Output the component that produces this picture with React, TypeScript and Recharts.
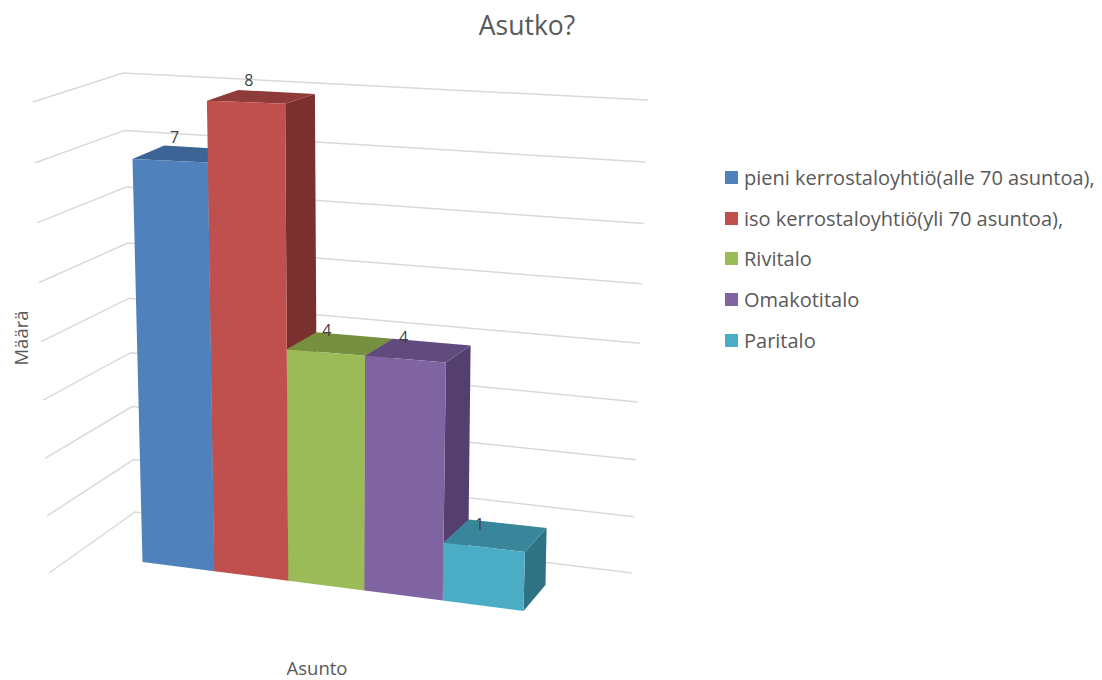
import { BarChart, Bar, XAxis, YAxis, CartesianGrid, Legend, LabelList } from 'recharts'

type Pt = [number, number]

const categories = ['Asunto']
const seriesKeys = ['pieni', 'iso', 'rivi', 'omakoti', 'pari']
const seriesNames = [
  'pieni kerrostaloyhtiö(alle 70 asuntoa),',
  'iso kerrostaloyhtiö(yli 70 asuntoa),',
  'Rivitalo',
  'Omakotitalo',
  'Paritalo',
]
const seriesValues = [7, 8, 4, 4, 1]
const frontColors = ['#4f81bd', '#c0504d', '#9bbb59', '#8064a2', '#4bacc6']
const topColors = ['#3c6494', '#8f3b39', '#76903f', '#614a7d', '#39869b']
const sideColors = ['#345781', '#7a302e', '#64793a', '#553f6e', '#2f7283']
const valueTicks = [0, 1, 2, 3, 4, 5, 6, 7, 8]

const data = categories.map(name => {
  const row: Record<string, string | number> = { name }
  seriesKeys.forEach((k, i) => { row[k] = seriesValues[i] })
  return row
})

const WIDTH = 1102
const HEIGHT = 680
const LEGEND_WIDTH = 375
const PLOT = { left: 130, top: 100, width: 400, height: 460 }
const TEXT = '#595959'
const FONT = '"Open Sans", sans-serif'

// perspective map from the unit square onto a quad (bottom-left, bottom-right, top-right, top-left)
function quadMap([p0, p1, p2, p3]: Pt[]) {
  const dx1 = p1[0] - p2[0], dx2 = p3[0] - p2[0], sx = p0[0] - p1[0] + p2[0] - p3[0]
  const dy1 = p1[1] - p2[1], dy2 = p3[1] - p2[1], sy = p0[1] - p1[1] + p2[1] - p3[1]
  const den = dx1 * dy2 - dx2 * dy1
  const g = (sx * dy2 - dx2 * sy) / den
  const h = (dx1 * sy - sx * dy1) / den
  const a = p1[0] - p0[0] + g * p1[0]
  const b = p3[0] - p0[0] + h * p3[0]
  const d = p1[1] - p0[1] + g * p1[1]
  const e = p3[1] - p0[1] + h * p3[1]
  return (u: number, v: number): Pt => {
    const w = g * u + h * v + 1
    return [(a * u + b * v + p0[0]) / w, (d * u + e * v + p0[1]) / w]
  }
}

const frontPlane = quadMap([[142.5, 562], [523.5, 611], [535, 113], [131, 98]])
const backPlane = quadMap([[173, 542], [545.5, 585], [555, 107], [163, 86]])
const leftWall = quadMap([[49, 573], [135, 512], [123, 73], [33, 102]])
const backWall = quadMap([[135, 512], [632, 573], [648, 100], [123, 73]])

// plot pixel + depth (0 front, 1 back) to drawn position
function project(px: number, py: number, depth: number): Pt {
  const u = (px - PLOT.left) / PLOT.width
  const v = (PLOT.top + PLOT.height - py) / PLOT.height
  const f = frontPlane(u, v)
  const b = backPlane(u, v)
  return [f[0] + (b[0] - f[0]) * depth, f[1] + (b[1] - f[1]) * depth]
}

const toPoints = (pts: Pt[]) => pts.map(p => `${p[0].toFixed(1)},${p[1].toFixed(1)}`).join(' ')

function Bar3D(props: any, index: number) {
  const { x, y, width, height } = props
  const r = x + width
  const b = y + height
  const front = [project(x, b, 0), project(r, b, 0), project(r, y, 0), project(x, y, 0)]
  const top = [project(x, y, 0), project(r, y, 0), project(r, y, 1), project(x, y, 1)]
  const side = [project(r, b, 0), project(r, b, 1), project(r, y, 1), project(r, y, 0)]
  return (
    <g>
      <polygon points={toPoints(side)} fill={sideColors[index]} />
      <polygon points={toPoints(top)} fill={topColors[index]} />
      <polygon points={toPoints(front)} fill={frontColors[index]} />
    </g>
  )
}

function WallLine(props: any) {
  const v = (PLOT.top + PLOT.height - props.y1) / PLOT.height
  return (
    <polyline
      key={props.index}
      points={toPoints([leftWall(0, v), backWall(0, v), backWall(1, v)])}
      fill="none"
      stroke="#d9d9d9"
      strokeWidth={1.5}
    />
  )
}

function ValueLabel(props: any) {
  const { x, y, width, value } = props
  const [lx, ly] = project(x + width * 0.14, y, 1)
  return (
    <text x={lx} y={ly + 5 - value * 2} textAnchor="middle" dominantBaseline="central" fontSize={16} fontFamily={FONT} fill="#404040">
      {value}
    </text>
  )
}

function LegendList({ payload }: any) {
  return (
    <div style={{ fontFamily: FONT, fontSize: 20, color: TEXT }}>
      {(payload || []).map((item: any) => (
        <div key={item.value} style={{ display: 'flex', alignItems: 'center', height: 40.75, whiteSpace: 'nowrap' }}>
          <span style={{ width: 13, height: 13, background: item.color, marginRight: 6 }} />
          {item.value}
        </div>
      ))}
    </div>
  )
}

export default function App() {
  return (
    <div style={{ position: 'absolute', left: 0, top: 0, width: WIDTH, height: HEIGHT, background: '#fff' }}>
      <BarChart
        width={WIDTH}
        height={HEIGHT}
        data={data}
        barCategoryGap={0}
        barGap={0}
        margin={{
          top: PLOT.top,
          left: PLOT.left,
          right: WIDTH - PLOT.left - PLOT.width - LEGEND_WIDTH,
          bottom: HEIGHT - PLOT.top - PLOT.height,
        }}
      >
        <CartesianGrid vertical={false} horizontal={WallLine} />
        <XAxis dataKey="name" hide />
        <YAxis hide width={0} domain={[0, 8]} ticks={valueTicks} />
        {seriesKeys.map((k, i) => (
          <Bar
            key={k}
            dataKey={k}
            name={seriesNames[i]}
            fill={frontColors[i]}
            isAnimationActive={false}
            shape={(p: any) => Bar3D(p, i)}
          >
            <LabelList dataKey={k} content={ValueLabel} />
          </Bar>
        ))}
        <Legend
          layout="vertical"
          align="right"
          verticalAlign="top"
          itemSorter={null}
          wrapperStyle={{ left: 725, top: 157, width: LEGEND_WIDTH }}
          content={LegendList}
        />
        <text x={527} y={24.5} textAnchor="middle" dominantBaseline="central" fontSize={26.5} fontFamily={FONT} fill={TEXT}>Asutko?</text>
        <text x={317} y={667.5} textAnchor="middle" dominantBaseline="central" fontSize={18.5} fontFamily={FONT} fill={TEXT}>Asunto</text>
        <text x={20} y={338} textAnchor="middle" dominantBaseline="central" fontSize={18.5} fontFamily={FONT} fill={TEXT} transform="rotate(-90 20 338)">Määrä</text>
      </BarChart>
    </div>
  )
}
